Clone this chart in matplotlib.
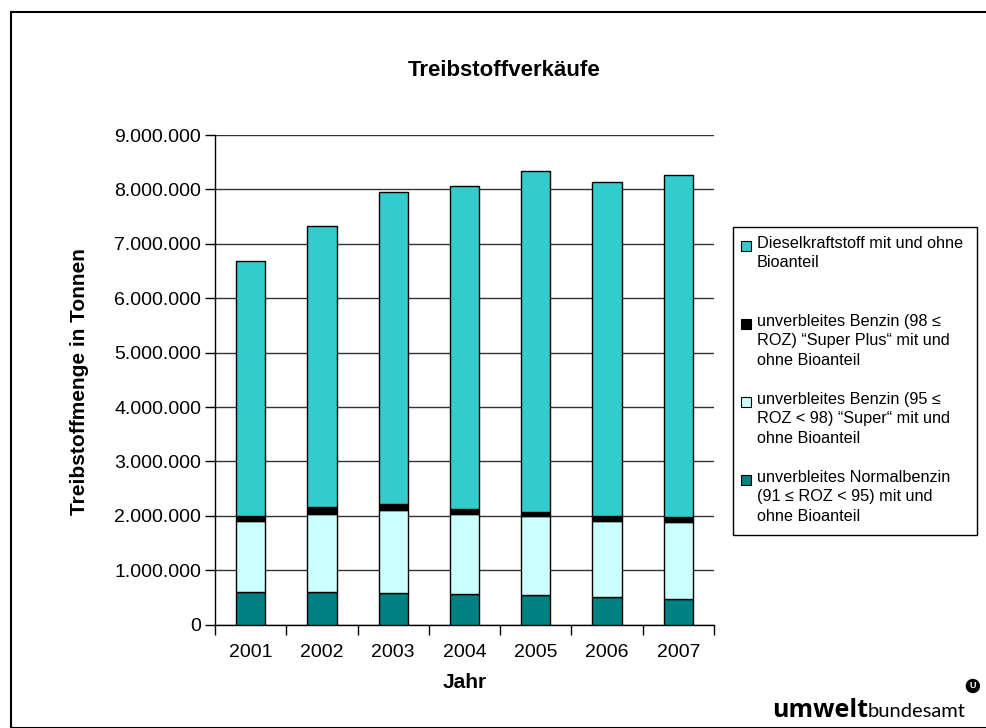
import matplotlib.pyplot as plt
from matplotlib.patches import Rectangle, Circle
from matplotlib.ticker import FuncFormatter, FixedLocator

plt.rcParams['font.family'] = ['Liberation Sans', 'DejaVu Sans']

# Werte in Tonnen
jahre = ["2001", "2002", "2003", "2004", "2005", "2006", "2007"]
normal = [600000, 600000, 580000, 565000, 545000, 510000, 470000]
superb = [1300000, 1435000, 1535000, 1470000, 1455000, 1400000, 1425000]
superplus = [90000, 120000, 110000, 90000, 75000, 85000, 85000]
diesel = [4700000, 5165000, 5735000, 5935000, 6255000, 6145000, 6280000]

labels = [
    "Dieselkraftstoff mit und ohne\nBioanteil",
    "unverbleites Benzin (98 \u2264\nROZ) \u201cSuper Plus\u201c mit und\nohne Bioanteil",
    "unverbleites Benzin (95 \u2264\nROZ < 98) \u201cSuper\u201c mit und\nohne Bioanteil",
    "unverbleites Normalbenzin\n(91 \u2264 ROZ < 95) mit und\nohne Bioanteil",
]
farben = ["#33CCCC", "#000000", "#CCFFFF", "#008080"]

fig = plt.figure(figsize=(9.86, 7.28), dpi=100)
W, H = 986, 728

# Rahmen um die ganze Grafik
fig.patches.append(Rectangle((11 / W, 0), 1.0, 1 - 12 / H, transform=fig.transFigure,
                             fill=False, edgecolor="black", linewidth=1.5))

ax = fig.add_axes([215 / W, 1 - 624.7 / H, (714 - 215) / W, (624.7 - 135) / H])

x = range(len(jahre))
breite = 0.41
unten = [0] * len(jahre)
for werte, farbe in [(normal, farben[3]), (superb, farben[2]), (superplus, farben[1]), (diesel, farben[0])]:
    ax.bar(x, werte, breite, bottom=unten, color=farbe, edgecolor="black", linewidth=1, zorder=3)
    unten = [u + w for u, w in zip(unten, werte)]

ax.set_xlim(-0.5, len(jahre) - 0.5)
ax.set_ylim(0, 9000000)
ax.set_yticks(range(0, 9000001, 1000000))
ax.yaxis.set_major_formatter(FuncFormatter(lambda v, p: f"{int(v):,}".replace(",", ".")))
ax.grid(axis="y", color="#333333", linewidth=1, zorder=0)

# Striche zwischen den Kategorien, Beschriftung in der Mitte
ax.xaxis.set_major_locator(FixedLocator([i - 0.5 for i in range(len(jahre) + 1)]))
ax.xaxis.set_major_formatter(FuncFormatter(lambda v, p: ""))
ax.set_xticks(list(x), jahre, minor=True)
ax.tick_params(axis="x", which="minor", length=0, pad=14, labelsize=14)
ax.tick_params(axis="x", which="major", length=7, width=1)
ax.tick_params(axis="y", length=7, width=1, labelsize=14, pad=3)

for s in ["top", "right"]:
    ax.spines[s].set_visible(False)
for s in ["left", "bottom"]:
    ax.spines[s].set_linewidth(1)

fig.text(504 / W, 1 - 70 / H, "Treibstoffverkäufe", ha="center", va="center",
         fontsize=16, fontweight="bold")
fig.text(465 / W, 1 - 683 / H, "Jahr", ha="center", va="center", fontsize=15, fontweight="bold")
fig.text(80 / W, 1 - 382 / H, "Treibstoffmenge in Tonnen", ha="center", va="center",
         rotation=90, fontsize=15, fontweight="bold")

# Legende
fig.patches.append(Rectangle((733 / W, 1 - 535 / H), (977 - 733) / W, (535 - 227) / H,
                             transform=fig.transFigure, fill=True, facecolor="white",
                             edgecolor="black", linewidth=1))
for i, (lab, farbe) in enumerate(zip(labels, farben)):
    yc = 246 + 78 * i
    fig.patches.append(Rectangle((741 / W, 1 - (yc + 5) / H), 10 / W, 10 / H,
                                 transform=fig.transFigure, facecolor=farbe,
                                 edgecolor="black", linewidth=0.8))
    fig.text(757 / W, 1 - (yc - 10) / H, lab, ha="left", va="top", fontsize=11.7,
             linespacing=1.36)

# Logo
renderer = fig.canvas.get_renderer()
t1 = fig.text(772 / W, 1 - 717 / H, "umwelt", ha="left", va="baseline", fontsize=18,
              fontweight="bold", family="Open Sans")
bb = t1.get_window_extent(renderer=renderer)
t2 = fig.text(bb.x1 / W, 1 - 717 / H, "bundesamt", ha="left", va="baseline", fontsize=18,
              fontweight="normal", family="Lato", color="black")
bb2 = t2.get_window_extent(renderer=renderer)
t2.set_fontsize(18 * 98 / bb2.width)
bb2 = t2.get_window_extent(renderer=renderer)
fig.patches.append(Circle((bb2.x1 + 7, H - 686), 6.5, transform=None, color="black"))
fig.text((bb2.x1 + 7) / W, 1 - 686 / H, "U", ha="center", va="center", fontsize=6.5,
         fontweight="bold", color="white")

fig.savefig("out.png", dpi=100)
